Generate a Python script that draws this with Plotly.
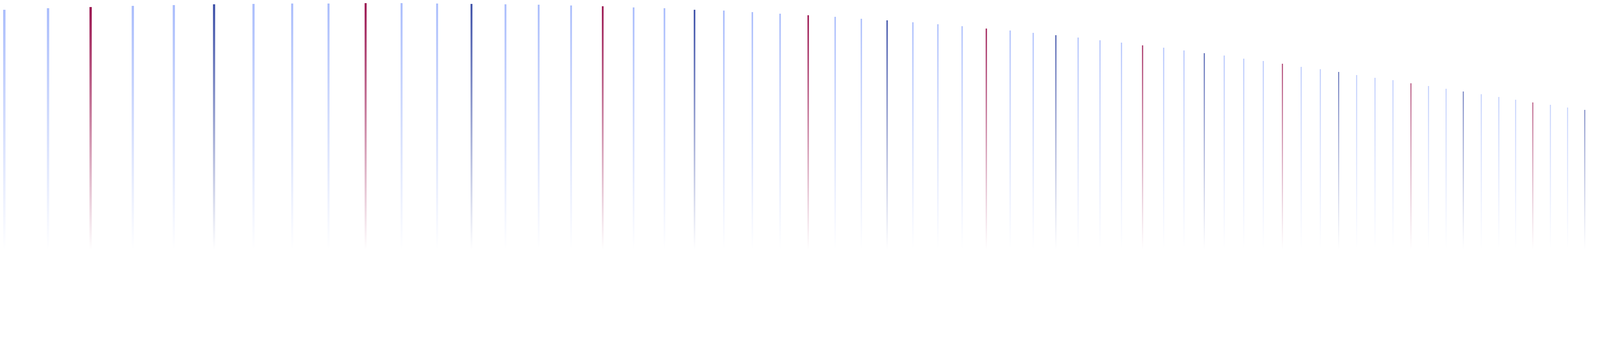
import plotly.graph_objects as go

# bar positions, tops and bottoms (axis units = pixels)
xs = [3, 115, 224, 332, 437, 540, 641, 740,
      833, 928, 1020, 1111, 1199, 1286, 1371, 1454, 1535, 1614, 1693, 1770, 1845, 1918, 1989, 2061, 2130, 2197,
      2263, 2329, 2393, 2455, 2517, 2578, 2637, 2695, 2752, 2808, 2863, 2917, 2971, 3023, 3075, 3126, 3176, 3226,
      3275, 3323, 3372, 3419, 3465, 3512, 3558,
      3604, 3649, 3694, 3738, 3784, 3829, 3872, 3916, 3961, 4005, 4049, 4093, 4138, 4182, 4227, 4272, 4316, 4362,
      4408, 4455, 4501, 4548, 4596, 4644, 4692, 4741, 4791, 4842, 4894, 4946, 4998,
      5052, 5107, 5163, 5220, 5277, 5332, 5388, 5444, 5499, 5555, 5611, 5667, 5722, 5779, 5834, 5889, 5946, 6001,
      6056, 6112, 6166, 6222, 6277, 6332, 6387,
      6441, 6495, 6549, 6603, 6657, 6711, 6764, 6818, 6870, 6923, 6976, 7028, 7080, 7131, 7182]
tops = [17, 13, 10, 7, 5, 3, 2, 1,
        1, 0, 0, 1, 2, 3, 4, 6, 8, 11, 13, 17, 19, 23, 27, 31, 35, 40,
        44, 49, 54, 59, 65, 70, 76, 82, 88, 95, 101, 108, 114, 121, 128, 134, 142, 148, 155, 163, 169, 176, 184,
        191, 197,
        205, 212, 219, 226, 233, 240, 247, 254, 260, 267, 273, 280, 286, 292, 298, 304, 310, 315, 320, 325, 330,
        335, 339, 343, 347, 351, 354, 358, 361, 363, 366,
        367, 369, 370, 372, 373, 373, 372, 369, 364, 358, 352, 343, 335, 325, 315, 304, 292, 280, 269, 255, 243,
        231, 219, 207, 195,
        185, 174, 165, 156, 148, 142, 136, 133, 129, 128, 129, 132, 135, 142, 150]
bottoms = [630] * 103 + [613, 597, 581, 564,
                         549, 534, 520, 507, 494, 483, 473, 464, 457, 452, 447, 446, 446, 447, 451]
groups = ("llrlldl" "llrlldl" "llrlldl" "llrlldl" "llrlldl" "llrlldl" "llrlldl" "llrlldl" "llrlldl"
          "llrlldl" "llrlldl" "llrlldl" "llrlldl" "llrlldl" "llrlldl" "llrlldl" "llrlldl" "llr")

COLORS = {"l": (170, 189, 252), "r": (155, 21, 80), "d": (61, 80, 168)}

fig = go.Figure()
n = len(xs)
for i in range(n):
    gap = (xs[min(i + 1, n - 1)] - xs[max(i - 1, 0)]) / (2 if 0 < i < n - 1 else 1)
    w = max(2.6, gap * 0.055) / 2
    r, g, b = COLORS[groups[i]]
    a = 1 - 0.45 * tops[i] / 373
    x0, x1 = xs[i] - w, xs[i] + w
    fig.add_trace(go.Scatter(
        x=[x0, x1, x1, x0, x0], y=[bottoms[i], bottoms[i], tops[i], tops[i], bottoms[i]],
        mode="lines", line=dict(width=0), fill="toself",
        fillgradient=dict(type="vertical", colorscale=[[0, f"rgba({r},{g},{b},0)"],
                                                       [1, f"rgba({r},{g},{b},{a})"]]),
        hoverinfo="skip", showlegend=False))

fig.update_layout(
    width=7184, height=867, margin=dict(l=0, r=0, t=0, b=0),
    paper_bgcolor="white", plot_bgcolor="white",
    xaxis=dict(range=[0, 7184], visible=False),
    yaxis=dict(range=[867, 0], visible=False),
)
fig.write_html("out.html")
